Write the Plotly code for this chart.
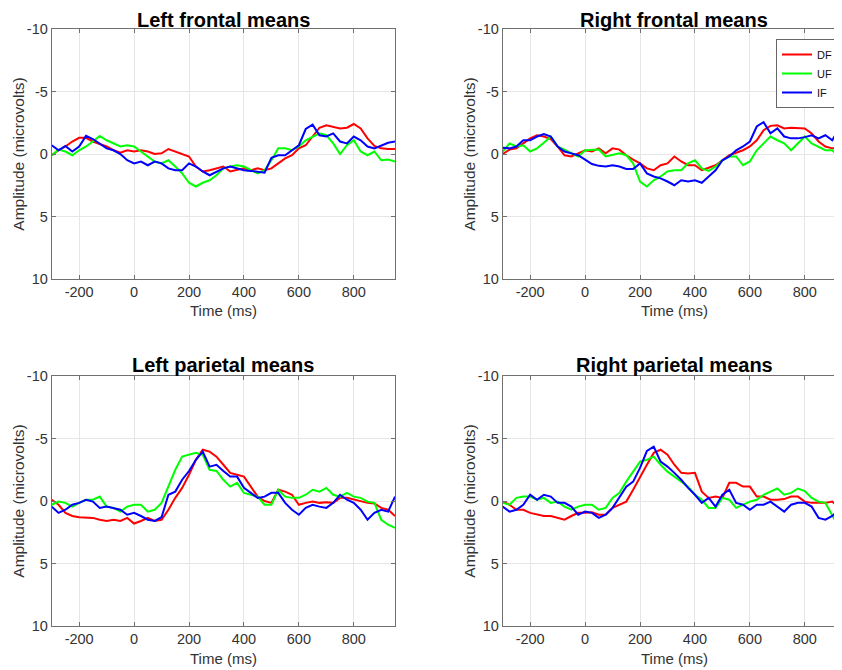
import plotly.graph_objects as go

# ---------------- data ----------------
time_ms = list(range(-300, 951, 25))

conditions = ["DF", "UF", "IF"]
colors = ["#ff0000", "#00ff00", "#0000ff"]

panel_titles = ["Left frontal means", "Right frontal means",
                "Left parietal means", "Right parietal means"]

x_ticks = [-200, 0, 200, 400, 600, 800]
y_ticks = [-10, -5, 0, 5, 10]

# Left frontal
lf_df = [0.1, -0.3, -0.6, -1.0, -1.3, -1.3, -1.0, -0.8, -0.6, -0.3,
         -0.1, -0.3, -0.2, -0.3, -0.2, 0.0, -0.05, -0.4, -0.2, 0.0,
         0.2, 1.0, 1.4, 1.3, 1.15, 1.0, 1.4, 1.3, 1.15, 1.3,
         1.15, 1.3, 1.15, 0.75, 0.35, 0.1, -0.45, -0.7, -1.4, -2.1,
         -2.3, -2.2, -2.05, -2.1, -2.4, -2.05, -1.25, -0.65, -0.45, -0.4,
         -0.4]
lf_uf = [0.1, -0.35, -0.2, 0.1, -0.3, -0.6, -1.0, -1.45, -1.1, -0.85,
         -0.6, -0.7, -0.6, -0.2, 0.2, 0.6, 0.75, 0.5, 1.0, 1.55,
         2.3, 2.6, 2.3, 2.1, 1.7, 1.15, 1.0, 0.9, 1.0, 1.3,
         1.55, 1.3, 0.5, -0.45, -0.45, -0.3, -0.6, -1.1, -1.4, -1.65,
         -1.5, -0.85, 0.0, -0.7, -1.1, -0.2, 0.1, -0.2, 0.5, 0.45,
         0.6]
lf_if = [-0.7, -0.3, -0.65, -0.2, -0.6, -1.45, -1.2, -0.85, -0.45, -0.3,
         0.0, 0.5, 0.75, 0.6, 0.9, 0.6, 0.75, 1.15, 1.3, 1.3,
         0.75, 1.0, 1.4, 1.7, 1.4, 1.15, 1.0, 1.15, 1.3, 1.35,
         1.4, 1.5, 0.3, 0.1, 0.1, -0.3, -0.7, -2.0, -2.35, -1.5,
         -1.4, -1.65, -1.0, -0.85, -1.4, -1.1, -0.6, -0.45, -0.7, -0.9,
         -1.0]

# Right frontal
rf_df = [0.0, -0.35, -0.45, -0.85, -1.25, -1.5, -1.4, -1.2, -0.6, 0.1,
         0.2, -0.05, -0.3, -0.2, -0.45, -0.05, -0.45, -0.35, 0.1, 0.45,
         0.75, 1.15, 1.3, 0.9, 0.75, 0.2, 0.6, 0.9, 0.9, 1.3,
         1.1, 0.9, 0.5, 0.1, -0.1, -0.3, -0.6, -1.1, -1.9, -2.25,
         -2.3, -2.05, -2.1, -2.05, -2.05, -1.65, -1.0, -0.6, -0.45, -0.45,
         -0.4]
rf_uf = [-0.2, -0.85, -0.6, -0.7, -0.2, -0.45, -0.9, -1.4, -0.6, -0.35,
         -0.05, 0.2, -0.3, -0.35, -0.35, 0.2, 0.1, -0.05, 0.1, 0.75,
         2.2, 2.6, 2.1, 1.8, 1.4, 1.3, 1.3, 0.75, 0.5, 1.15,
         1.35, 1.0, 0.5, 0.2, 0.2, 0.9, 0.6, -0.3, -0.85, -1.4,
         -1.1, -0.85, -0.3, -0.85, -1.4, -0.85, -0.6, -0.3, -0.3, 0.2,
         0.1]
rf_if = [-0.5, -0.45, -0.6, -1.1, -1.1, -1.4, -1.6, -1.4, -0.6, -0.2,
         -0.05, 0.1, 0.45, 0.8, 0.95, 1.0, 0.9, 1.0, 1.2, 1.2,
         0.75, 1.55, 1.8, 1.95, 2.2, 2.5, 2.1, 2.2, 2.1, 2.3,
         1.8, 1.3, 0.5, 0.2, -0.3, -0.6, -1.0, -2.2, -2.55, -1.65,
         -2.05, -1.4, -1.25, -1.25, -1.35, -1.5, -1.25, -1.5, -1.1, -2.05,
         -1.9]

# Left parietal
lp_df = [-0.1, 0.3, 0.95, 1.2, 1.3, 1.3, 1.35, 1.5, 1.6, 1.5,
         1.6, 1.35, 1.8, 1.6, 1.35, 1.6, 1.5, 0.7, -0.25, -1.05,
         -2.1, -3.3, -4.1, -3.95, -3.55, -2.9, -2.25, -2.1, -1.95, -1.15,
         -0.35, 0.0, 0.15, -0.9, -0.75, -0.5, 0.3, 0.15, 0.05, 0.15,
         0.1, 0.15, -0.25, -0.25, -0.1, 0.05, 0.15, 0.2, 0.55, 0.7,
         1.2]
lp_uf = [0.3, 0.05, 0.15, 0.45, 0.15, -0.1, -0.1, -0.35, 0.45, 0.55,
         0.85, 0.45, 0.3, 0.3, 0.85, 0.7, 0.15, -1.15, -2.5, -3.55,
         -3.7, -3.85, -3.7, -2.5, -2.4, -1.7, -1.15, -1.45, -0.65, -0.5,
         -0.35, 0.3, 0.3, -0.9, -0.35, -0.25, -0.25, -0.5, -0.9, -0.75,
         -1.05, -0.5, -0.35, -0.65, -0.35, -0.25, 0.05, 0.15, 1.5, 1.9,
         2.15]
lp_if = [0.45, 0.95, 0.7, 0.3, 0.15, -0.1, 0.05, 0.55, 0.45, 0.55,
         0.7, 1.1, 0.95, 1.2, 1.5, 1.6, 1.3, -0.5, -0.75, -1.7,
         -2.4, -3.3, -3.95, -2.75, -2.9, -2.4, -1.95, -1.95, -1.05, -0.65,
         -0.25, -0.35, -0.65, -0.65, 0.15, 0.7, 1.1, 0.55, 0.3, 0.45,
         0.55, 0.15, -0.5, -0.1, 0.15, 0.7, 1.5, 0.95, 0.7, 0.85,
         -0.35]

# Right parietal
rp_df = [0.05, 0.3, 0.7, 0.7, 0.95, 1.1, 1.2, 1.2, 1.35, 1.5,
         1.2, 0.95, 0.95, 0.9, 1.1, 1.1, 0.55, 0.3, 0.05, -0.9,
         -1.95, -2.9, -3.85, -4.1, -3.7, -2.9, -2.25, -2.2, -2.25, -0.75,
         -0.25, -0.35, -0.25, -1.45, -1.45, -1.15, -1.15, -0.35, -0.35, -0.1,
         -0.1, -0.15, -0.35, -0.35, 0.05, 0.15, 0.15, 0.15, 0.05, 0.55,
         0.7]
rp_uf = [0.15, 0.3, -0.25, -0.35, -0.35, -0.1, -0.25, 0.15, 0.05, 0.45,
         0.7, 0.45, 0.3, 0.3, 0.7, 0.55, -0.25, -0.65, -1.55, -2.35,
         -3.15, -3.3, -3.55, -2.9, -2.35, -1.95, -1.55, -1.15, -0.5, -0.1,
         0.55, 0.55, -0.25, -0.1, 0.55, 0.3, 0.05, -0.1, -0.5, -0.75,
         -1.0, -0.5, -0.65, -1.0, -0.8, -0.25, 0.05, 0.15, 1.1, 2.15,
         2.5]
rp_if = [0.45, 0.85, 0.7, 0.3, -0.5, -0.1, -0.5, -0.35, 0.15, 0.15,
         0.45, 1.1, 0.85, 0.95, 1.35, 1.1, 0.55, -0.35, -1.15, -1.55,
         -2.65, -4.0, -4.35, -3.15, -2.75, -2.25, -1.7, -1.05, -0.5, 0.15,
         -0.25, 0.45, -0.5, -0.9, 0.15, 0.3, 0.7, 0.3, 0.3, 0.05,
         0.45, 0.85, 0.3, 0.15, 0.15, 0.45, 1.35, 1.5, 1.2, 0.7,
         1.1]

panels = [[lf_df, lf_uf, lf_if], [rf_df, rf_uf, rf_if],
          [lp_df, lp_uf, lp_if], [rp_df, rp_uf, rp_if]]

# ---------------- figure ----------------
W, H = 842, 670
OFF = 8  # page body margin: the figure is drawn 8px right/down in the window
FONT = "Liberation Sans, Arial, Helvetica, sans-serif"
AXC = "#707070"
TXT = "#333333"


def px(v):
    return v - OFF


# window-pixel geometry of plot areas (left, right, top, bottom)
boxes = [(51.7, 395.0, 29.0, 279.0), (502.7, 846.0, 29.0, 279.0),
         (51.7, 395.0, 376.0, 626.0), (502.7, 846.0, 376.0, 626.0)]
title_gap = [8.5, 8.5, 11.5, 11.5]
x_range = [-300, 950]

fig = go.Figure()
for p, series in enumerate(panels):
    sfx = "" if p == 0 else str(p + 1)
    for c, vals in enumerate(series):
        fig.add_trace(go.Scatter(
            x=time_ms, y=vals, mode="lines",
            line=dict(color=colors[c], width=2),
            name=conditions[c], legendgroup=conditions[c],
            showlegend=(p == 1),
            xaxis="x" + sfx, yaxis="y" + sfx,
        ))

layout = dict(
    template="none",
    width=W, height=H, autosize=False,
    margin=dict(l=0, r=0, t=0, b=0, pad=0),
    paper_bgcolor="white", plot_bgcolor="white",
    font=dict(family=FONT, size=14.5, color=TXT),
    showlegend=True,
    legend=dict(x=px(776) / W, y=1 - px(39) / H, xanchor="left", yanchor="top",
                bgcolor="white", bordercolor="#666666", borderwidth=1,
                font=dict(family=FONT, size=11, color="#111111"),
                tracegroupgap=0),
)

annotations = []
for p, (l, r, t, b) in enumerate(boxes):
    sfx = "" if p == 0 else str(p + 1)
    L, R, T, B = px(l), px(r), px(t), px(b)
    xa = dict(domain=[L / W, R / W], range=x_range,
              anchor="y" + sfx, tickvals=x_ticks,
              ticktext=[str(v) for v in x_ticks], automargin=False,
              showgrid=True, gridcolor="#e6e6e6", gridwidth=1,
              zeroline=False, showline=True, linecolor=AXC, linewidth=1,
              mirror="ticks", ticks="inside", ticklen=4, tickcolor=AXC,
              tickfont=dict(size=14.5, color=TXT, family=FONT))
    ya = dict(domain=[1 - B / H, 1 - T / H], range=[10, -10],
              anchor="x" + sfx, tickvals=y_ticks,
              ticktext=[str(v) for v in y_ticks], automargin=False,
              showgrid=True, gridcolor="#e6e6e6", gridwidth=1,
              zeroline=False, showline=True, linecolor=AXC, linewidth=1,
              mirror="ticks", ticks="inside", ticklen=4, tickcolor=AXC,
              tickfont=dict(size=14.5, color=TXT, family=FONT))
    layout["xaxis" + sfx] = xa
    layout["yaxis" + sfx] = ya

    cx = ((L + R) / 2) / W
    # panel title
    annotations.append(dict(
        text="<b>" + panel_titles[p] + "</b>", x=cx,
        y=1 - (T - title_gap[p]) / H,
        xref="paper", yref="paper", xanchor="center", yanchor="middle",
        showarrow=False, font=dict(size=20, color="#000000", family=FONT)))
    # x-axis label
    annotations.append(dict(
        text="Time (ms)", x=cx, y=1 - (B + 32) / H,
        xref="paper", yref="paper", xanchor="center", yanchor="middle",
        showarrow=False, font=dict(size=15, color=TXT, family=FONT)))
    # y-axis label
    annotations.append(dict(
        text="Amplitude (microvolts)", x=(L - 34) / W, y=1 - ((T + B) / 2) / H,
        xref="paper", yref="paper", xanchor="center", yanchor="middle",
        textangle=-90, showarrow=False,
        font=dict(size=15.5, color=TXT, family=FONT)))

layout["annotations"] = annotations
fig.update_layout(**layout)

fig.write_html("out.html")
